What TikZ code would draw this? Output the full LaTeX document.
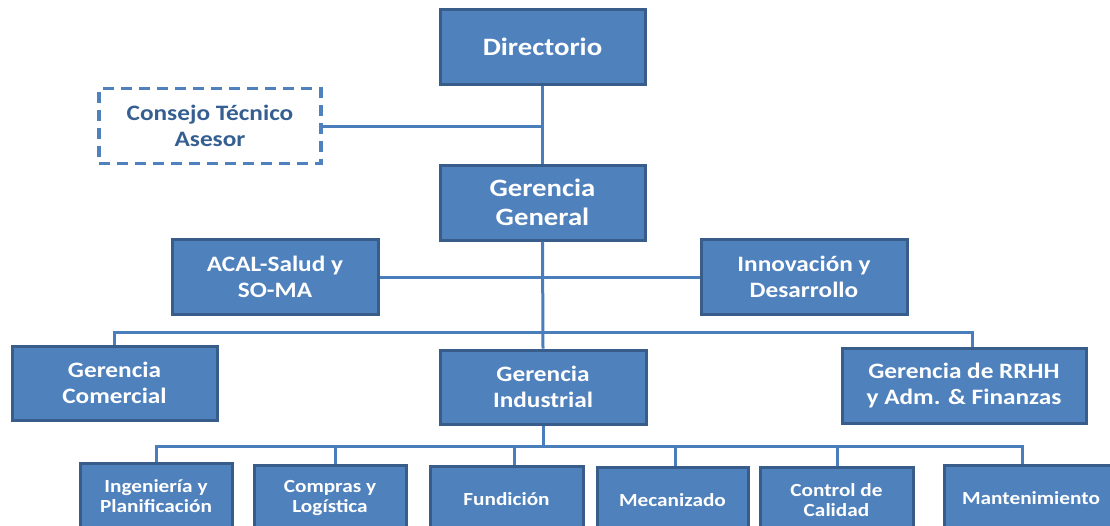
\documentclass[tikz,border=0pt]{standalone}
\usepackage{fontspec}
\setmainfont{Carlito}[FakeStretch=1.15]
\usepackage{tikz}
\usetikzlibrary{calc}
\definecolor{cajaazul}{HTML}{4F81BD}
\definecolor{bordeazul}{HTML}{385D8A}
\definecolor{lineaazul}{HTML}{4A7EBB}
\definecolor{textoazul}{HTML}{365F91}

\begin{document}
\begin{tikzpicture}[x=1pt,y=-1pt,
    caja/.style={draw=bordeazul, fill=cajaazul, line width=3pt, text=white,
        font=\bfseries, align=center, inner sep=0pt},
    grande/.style={font=\fontsize{25}{29}\selectfont\bfseries},
    mediana/.style={font=\fontsize{22}{26}\selectfont\bfseries},
    chica/.style={font=\fontsize{18.5}{20.5}\selectfont\bfseries},
    asesor/.style={draw=cajaazul, dash pattern=on 11pt off 7pt, line width=3.2pt,
        text=textoazul, align=center, inner sep=0pt},
    linea/.style={draw=lineaazul, line width=3pt}]
            \useasboundingbox (0,0) rectangle (1110,525);

            % Nivel superior
            \node[caja, grande, minimum width=205pt, minimum height=75pt] (dir) at (542.5,46.5) {Directorio};
            \node[asesor, mediana, minimum width=222pt, minimum height=75pt] (consejo) at (210,126) {Consejo Técnico\\Asesor};
            \node[caja, grande, minimum width=205pt, minimum height=75pt] (gg) at (542.5,202.5) {Gerencia\\General};

            % Staff
            \node[caja, mediana, minimum width=206pt, minimum height=75pt] (acal) at (275,277) {ACAL-Salud y\\SO-MA};
            \node[caja, mediana, minimum width=206pt, minimum height=75pt] (innov) at (804,277) {Innovación y\\Desarrollo};

            % Gerencias
            \node[caja, mediana, minimum width=205pt, minimum height=74pt] (gc) at (114.5,383) {Gerencia\\Comercial};
            \node[caja, mediana, minimum width=206pt, minimum height=74pt] (gi) at (543,387) {Gerencia\\Industrial};
            \node[caja, mediana, minimum width=244pt, minimum height=75pt] (rrhh) at (964,385.5) {Gerencia de RRHH\\y Adm. \& Finanzas};

            % Areas de la gerencia industrial
            \node[caja, chica, minimum width=152pt, minimum height=66pt] (ing) at (156,496) {Ingeniería y\\Planificación};
            \node[caja, chica, minimum width=152pt, minimum height=66pt] (compras) at (330,498) {Compras y\\Logística};
            \node[caja, chica, minimum width=153pt, minimum height=66pt] (fund) at (506.5,499) {Fundición};
            \node[caja, chica, minimum width=151pt, minimum height=66pt] (mec) at (672.5,500) {Mecanizado};
            \node[caja, chica, minimum width=153pt, minimum height=66pt] (control) at (836.5,500) {Control de\\Calidad};
            \node[caja, chica, minimum width=174pt, minimum height=66pt] (mant) at (1031,498) {Mantenimiento};

            % Lineas de mando
            \coordinate (b1) at (543,332);
            \coordinate (b2) at (545,446);
            \coordinate (rrhhtop) at ([xshift=8pt]rrhh.north);
            \coordinate (manttop) at ([xshift=-9pt]mant.north);
            \draw[linea] (dir.south) -- (gg.north);
            \draw[linea] (consejo.east) -- (consejo.east -| dir.south);
            \draw[linea] (gg.south) -- (gi.north);
            \draw[linea] (acal.east) -- (innov.west);
            \draw[linea] (gc.north) |- (b1 -| rrhhtop) -- (rrhhtop);
            \draw[linea] (gi.south) -- (gi.south |- b2);
            \draw[linea] (ing.north) |- (b2 -| manttop) -- (manttop);
            \foreach \n/\dx in {compras/5, fund/8, mec/3, control/1} {
                \draw[linea] ([xshift=\dx pt]\n.north) -- ([xshift=\dx pt]\n.north |- b2);
            }
        \end{tikzpicture}
\end{document}
